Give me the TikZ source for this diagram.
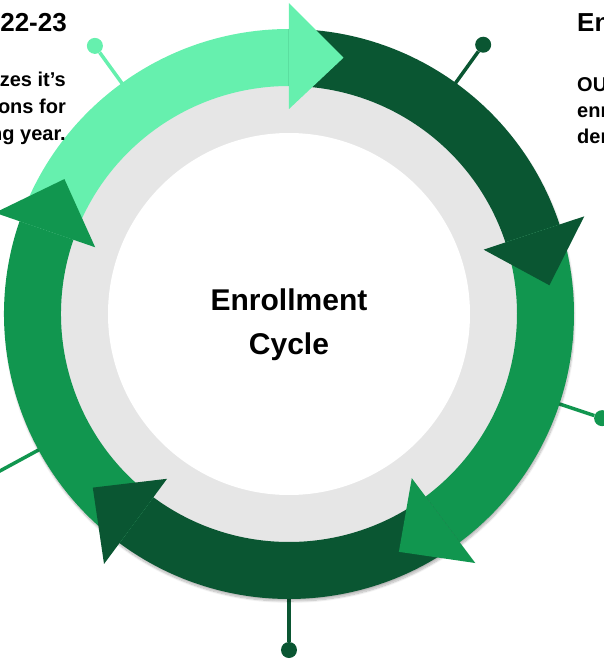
\documentclass[tikz,border=0pt]{standalone}
\usepackage{fontspec}
\setmainfont{Liberation Sans}
\usetikzlibrary{shadows.blur}
\definecolor{mint}{HTML}{66F0AE}
\definecolor{forest}{HTML}{0A5632}
\definecolor{leaf}{HTML}{11964F}
\definecolor{ringgray}{HTML}{E6E6E6}
\tikzset
{
    pin/.style     = {circle, inner sep=0pt, minimum size=16pt},
    stem/.style    = {line width=3.5pt},
    heading/.style = {font=\fontsize{26}{30}\selectfont\bfseries, inner sep=0pt},
    blurb/.style   = {font=\fontsize{20}{24}\selectfont\bfseries, inner sep=0pt},
    title/.style   = {font=\fontsize{30}{36}\selectfont\bfseries, inner sep=0pt}
}

\begin{document}
\begin{tikzpicture}[x=1pt, y=1pt]
    \useasboundingbox (-289,-345) rectangle (315,314);
    \clip (-289,-345) rectangle (315,314);
    % connectors with end dots
    \foreach \ang/\dist/\col [count=\i] in {125.9/331/mint, 54.2/332/forest, -18.4/330/leaf, -90/336/forest, 208.5/345/leaf}
    {
        \coordinate (foot\i) at (\ang:270pt);
        \node [pin, fill=\col] (pin\i) at (\ang:\dist pt) {};
        \draw [stem, \col] (foot\i) -- (pin\i);
    }
    % ring
    \fill [ringgray, blur shadow={shadow blur steps=12, shadow blur extra rounding=3pt, shadow xshift=1pt, shadow yshift=-3pt, shadow opacity=30}] (0,0) circle (284pt);
    \foreach \col/\from/\to in {mint/161/90, forest/90/18.3, leaf/18.3/-53.2, forest/-53.2/-126.5, leaf/-126.5/-199}
    {
        \fill [\col] (\from:285pt) arc [start angle=\from, end angle=\to, radius=285pt]
            -- (\to:228pt) arc [start angle=\to, end angle=\from, radius=228pt] -- cycle;
    }
    \foreach \col/\to in {mint/90, forest/18.3, leaf/-53.2, forest/-126.5, leaf/-199}
    {
        \fill [\col] (\to:205pt) -- ({\to-12}:262pt) -- (\to:311pt) -- cycle;
    }
    \fill [white] (0,0) circle (181pt);
    % centre title
    \node [title, anchor=base] (titletop) at (0,4) {Enrollment};
    \node [title, anchor=base] (titlebot) at (0,-40) {Cycle};
    % left text
    \node [heading, anchor=base east] (yearhead) at (-222,282) {22-23};
    \foreach \txt/\yy [count=\i] in {zes it’s/227, ons for/200, ng year./173}
        \node [blurb, anchor=base east] (yearline\i) at (-223,\yy) {\txt};
    % right text
    \node [heading, anchor=base west] (enrolhead) at (288,282) {En};
    \foreach \txt/\yy [count=\i] in {OU/222, enr/196, der/170}
        \node [blurb, anchor=base west] (enrolline\i) at (288,\yy) {\txt};
\end{tikzpicture}
\end{document}
